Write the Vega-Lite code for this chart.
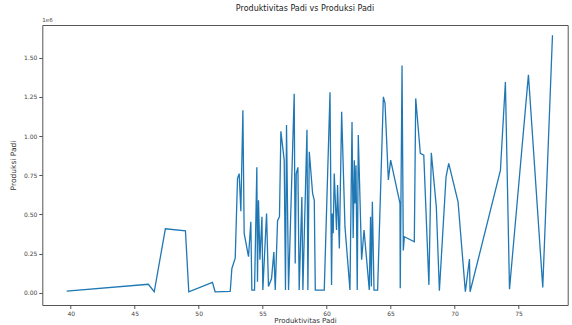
{
  "$schema": "https://vega.github.io/schema/vega-lite/v6.json",
  "autosize": "none",
  "padding": {"left": 42.3, "top": 25, "right": 4.3, "bottom": 20},
  "width": 525.4,
  "height": 280,
  "background": "white",
  "config": {
    "font": "DejaVu Sans",
    "view": {"stroke": "#555555", "strokeWidth": 1},
    "axis": {"grid": false, "domain": false, "tickColor": "#555555", "tickSize": 3.5, "labelColor": "#444444", "titleColor": "#333333", "labelFont": "DejaVu Sans", "titleFont": "DejaVu Sans", "titleFontWeight": "normal", "labelFontSize": 6, "titleFontSize": 7.5}
  },
  "title": {"text": "Produktivitas Padi vs Produksi Padi", "fontSize": 8, "fontWeight": "normal", "color": "#222222", "font": "DejaVu Sans", "offset": 5},
  "data": {"values": [
    {"produktivitas": 39.69, "produksi": 10000},
    {"produktivitas": 46.07, "produksi": 54000},
    {"produktivitas": 46.53, "produksi": 6000},
    {"produktivitas": 47.40, "produksi": 408000},
    {"produktivitas": 48.97, "produksi": 395000},
    {"produktivitas": 49.23, "produksi": 6000},
    {"produktivitas": 51.08, "produksi": 66000},
    {"produktivitas": 51.29, "produksi": 6000},
    {"produktivitas": 52.47, "produksi": 8000},
    {"produktivitas": 52.60, "produksi": 155000},
    {"produktivitas": 52.86, "produksi": 220000},
    {"produktivitas": 53.04, "produksi": 730000},
    {"produktivitas": 53.17, "produksi": 760000},
    {"produktivitas": 53.30, "produksi": 520000},
    {"produktivitas": 53.46, "produksi": 1165000},
    {"produktivitas": 53.56, "produksi": 379000},
    {"produktivitas": 53.90, "produksi": 230000},
    {"produktivitas": 54.08, "produksi": 453000},
    {"produktivitas": 54.16, "produksi": 17000},
    {"produktivitas": 54.37, "produksi": 17000},
    {"produktivitas": 54.55, "produksi": 800000},
    {"produktivitas": 54.60, "produksi": 70000},
    {"produktivitas": 54.68, "produksi": 590000},
    {"produktivitas": 54.79, "produksi": 210000},
    {"produktivitas": 54.95, "produksi": 485000},
    {"produktivitas": 55.02, "produksi": 17000},
    {"produktivitas": 55.31, "produksi": 506000},
    {"produktivitas": 55.46, "produksi": 40000},
    {"produktivitas": 55.70, "produksi": 90000},
    {"produktivitas": 55.88, "produksi": 260000},
    {"produktivitas": 55.99, "produksi": 17000},
    {"produktivitas": 56.17, "produksi": 460000},
    {"produktivitas": 56.32, "produksi": 485000},
    {"produktivitas": 56.43, "produksi": 1030000},
    {"produktivitas": 56.69, "produksi": 846000},
    {"produktivitas": 56.79, "produksi": 17000},
    {"produktivitas": 56.87, "produksi": 1070000},
    {"produktivitas": 57.03, "produksi": 17000},
    {"produktivitas": 57.47, "produksi": 1270000},
    {"produktivitas": 57.55, "produksi": 187000},
    {"produktivitas": 57.63, "produksi": 760000},
    {"produktivitas": 57.76, "produksi": 800000},
    {"produktivitas": 57.86, "produksi": 17000},
    {"produktivitas": 58.07, "produksi": 610000},
    {"produktivitas": 58.15, "produksi": 17000},
    {"produktivitas": 58.47, "produksi": 1040000},
    {"produktivitas": 58.54, "produksi": 17000},
    {"produktivitas": 58.65, "produksi": 900000},
    {"produktivitas": 58.91, "produksi": 634000},
    {"produktivitas": 59.04, "produksi": 590000},
    {"produktivitas": 59.12, "produksi": 17000},
    {"produktivitas": 59.82, "produksi": 17000},
    {"produktivitas": 60.27, "produksi": 1280000},
    {"produktivitas": 60.39, "produksi": 50000},
    {"produktivitas": 60.45, "produksi": 506000},
    {"produktivitas": 60.52, "produksi": 380000},
    {"produktivitas": 60.60, "produksi": 760000},
    {"produktivitas": 60.78, "produksi": 400000},
    {"produktivitas": 60.86, "produksi": 687000},
    {"produktivitas": 61.00, "produksi": 283000},
    {"produktivitas": 61.18, "produksi": 1155000},
    {"produktivitas": 61.44, "produksi": 420000},
    {"produktivitas": 61.83, "produksi": 17000},
    {"produktivitas": 61.99, "produksi": 1090000},
    {"produktivitas": 62.08, "produksi": 350000},
    {"produktivitas": 62.17, "produksi": 846000},
    {"produktivitas": 62.22, "produksi": 570000},
    {"produktivitas": 62.30, "produksi": 814000},
    {"produktivitas": 62.40, "produksi": 17000},
    {"produktivitas": 62.48, "produksi": 1006000},
    {"produktivitas": 62.74, "produksi": 210000},
    {"produktivitas": 62.93, "produksi": 400000},
    {"produktivitas": 63.34, "produksi": 17000},
    {"produktivitas": 63.44, "produksi": 485000},
    {"produktivitas": 63.50, "produksi": 40000},
    {"produktivitas": 63.58, "produksi": 580000},
    {"produktivitas": 63.71, "produksi": 17000},
    {"produktivitas": 63.99, "produksi": 17000},
    {"produktivitas": 64.44, "produksi": 1250000},
    {"produktivitas": 64.57, "produksi": 1210000},
    {"produktivitas": 64.83, "produksi": 720000},
    {"produktivitas": 65.01, "produksi": 846000},
    {"produktivitas": 65.74, "produksi": 570000},
    {"produktivitas": 65.76, "produksi": 28000},
    {"produktivitas": 65.90, "produksi": 1450000},
    {"produktivitas": 66.00, "produksi": 270000},
    {"produktivitas": 66.08, "produksi": 357000},
    {"produktivitas": 66.86, "produksi": 325000},
    {"produktivitas": 66.97, "produksi": 1240000},
    {"produktivitas": 67.33, "produksi": 889000},
    {"produktivitas": 67.60, "produksi": 878000},
    {"produktivitas": 68.00, "produksi": 50000},
    {"produktivitas": 68.19, "produksi": 893000},
    {"produktivitas": 68.58, "produksi": 548000},
    {"produktivitas": 68.82, "produksi": 13000},
    {"produktivitas": 69.34, "produksi": 740000},
    {"produktivitas": 69.55, "produksi": 825000},
    {"produktivitas": 70.28, "produksi": 580000},
    {"produktivitas": 70.85, "produksi": 6000},
    {"produktivitas": 71.17, "produksi": 215000},
    {"produktivitas": 71.22, "produksi": 6000},
    {"produktivitas": 73.59, "produksi": 780000},
    {"produktivitas": 73.98, "produksi": 1345000},
    {"produktivitas": 74.30, "produksi": 22000},
    {"produktivitas": 75.78, "produksi": 1390000},
    {"produktivitas": 76.90, "produksi": 34000},
    {"produktivitas": 77.66, "produksi": 1643000}
  ]},
  "layer": [
    {
      "mark": {"type": "line", "color": "#1f77b4", "strokeWidth": 1.3, "clip": true},
      "encoding": {
        "x": {"field": "produktivitas", "type": "quantitative", "scale": {"domain": [37.78, 78.85], "nice": false, "zero": false},
              "axis": {"title": "Produktivitas Padi", "titleFontSize": 7, "values": [40, 45, 50, 55, 60, 65, 70, 75], "format": "d", "labelPadding": 1.5, "titlePadding": 0}},
        "y": {"field": "produksi", "type": "quantitative", "scale": {"domain": [-78400, 1708500], "nice": false, "zero": false},
              "axis": {"title": "Produksi Padi", "values": [0, 250000, 500000, 750000, 1000000, 1250000, 1500000], "labelExpr": "format(datum.value / 1000000, '.2f')", "labelPadding": 2, "titlePadding": 6}}
      }
    },
    {
      "data": {"values": [{"label": "1e6"}]},
      "mark": {"type": "text", "align": "left", "baseline": "bottom", "fontSize": 5.5, "color": "#444444", "dx": 0, "dy": -2},
      "encoding": {
        "x": {"datum": 37.78, "type": "quantitative"},
        "y": {"datum": 1708500, "type": "quantitative"},
        "text": {"field": "label"}
      }
    }
  ]
}
